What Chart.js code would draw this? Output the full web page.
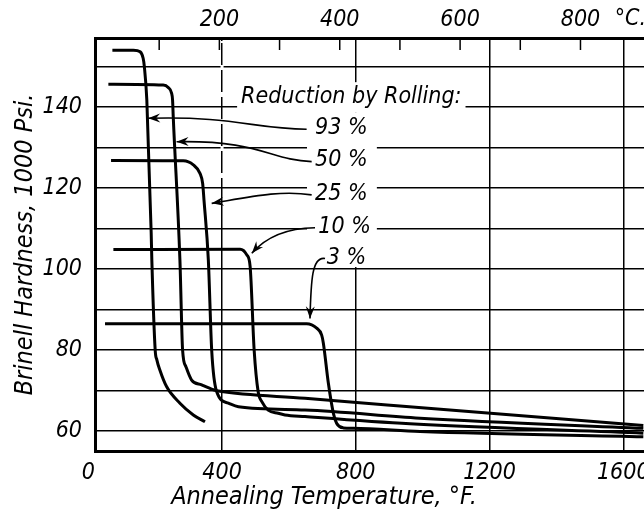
<!DOCTYPE html>
<html>
<head>
<meta charset="utf-8">
<style>
  html, body { margin: 0; padding: 0; background: #fff; }
  #wrap { width: 644px; height: 517px; position: relative; }
</style>
</head>
<body>
<div id="wrap"><canvas id="hardnessChart"></canvas></div>
<script src="https://cdn.jsdelivr.net/npm/chart.js@4.4.1/dist/chart.umd.min.js"></script>
<script>
// Annealing temperature (deg F) against Brinell hardness (1000 psi)
const temp93 = [72, 135, 155, 164, 167.5, 175, 188, 190, 200, 205, 214, 234, 274, 314, 349];
const hard93 = [154, 154, 153.6, 152, 150, 141.7, 109, 102.2, 80, 77.6, 75.1, 71, 66.9, 64, 62.3];

const temp50 = [60, 224, 239, 249, 252, 254, 274, 282, 292, 309, 339, 374, 389, 648, 932, 1660];
const hard50 = [145.6, 145.4, 144.8, 143.4, 141.7, 137.6, 102.2, 80, 75.9, 72.6, 71.4, 70.2, 69.9, 68.1, 66.2, 61.4];

const temp25 = [68, 284, 314, 334, 342, 346, 359, 369, 384, 419, 449, 648, 992, 1660];
const hard25 = [126.8, 126.7, 125.7, 123.6, 121.1, 117, 102.2, 80, 69.7, 66.9, 66, 65.2, 63.2, 60.7];

const temp10 = [75, 454, 474, 484, 496, 508, 519, 538, 568, 588, 648, 962, 1660];
const hard10 = [104.8, 104.9, 103.5, 100.6, 80, 69.7, 67.3, 65.2, 64.4, 64, 63.6, 61.8, 59.5];

const temp3 = [50, 653, 683, 698, 703, 718, 733, 743, 763, 793, 992, 1660];
const hard3 = [86.5, 86.5, 85.4, 83.7, 81.7, 71.8, 64.4, 61.9, 60.8, 60.7, 59.9, 58.6];

const seriesLabels = ['93 %', '50 %', '25 %', '10 %', '3 %'];

// axes
const F_TICKS = [0, 400, 800, 1200, 1600];
const C_LABELS = [200, 400, 600, 800];
const C_MARKS = [100, 200, 300, 400, 500, 600, 700, 800];
const H_TICKS = [60, 70, 80, 90, 100, 110, 120, 130, 140, 150];
const X_MIN = 20, X_MAX = 1662;
const Y_MIN = 55.1, Y_MAX = 157;

const FONT = "'Liberation Sans Narrow', 'DejaVu Sans Condensed', 'DejaVu Sans', sans-serif";
const INK = '#000';

const toC = f => (f - 32) / 1.8;

// legend notes: where the label sits and the leader curve (deg F, hardness)
const noteTitle = { text: 'Reduction by Rolling:', at: [457, 142.4] };
const noteLabelAt = [[678, 134.8], [678, 126.8], [678, 118.4], [688, 110.4], [713, 102.7]];
const noteLeaders = [
    [[653, 134.5], [498, 134.5], [439, 137.8], [179, 137.2]],
    [[668, 126.5], [543, 126.9], [513, 131.8], [264, 131.4]],
    [[668, 118.3], [573, 119.5], [484, 117.8], [369, 116.2]],
    [[678, 110.2], [588, 110.1], [528, 107.6], [489, 103.9]],
    [[708, 102.6], [669, 103.2], [666, 97.3], [663, 87.8]]
];
const noteColumnRight = 863;   // deg F where the blank strip behind the labels ends
const xTitleAt = 705;          // deg F under which the bottom title is centred
const dashedGrid = { at: 400, downTo: 118 };  // the 400 F rule is broken in the upper part

function makeSeries(temps, hards) {
    return temps.map((t, i) => ({ x: t, y: hards[i] }));
}

const plateNotes = {
    id: 'plateNotes',
    beforeDatasetsDraw(chart) {
        // blank out the grid behind the legend lettering
        const { ctx, scales, chartArea } = chart;
        const x = scales.x, y = scales.y;
        ctx.save();
        ctx.font = `italic 23px ${FONT}`;
        const tx = x.getPixelForValue(noteTitle.at[0]);
        const ty = y.getPixelForValue(noteTitle.at[1]);
        const tw = ctx.measureText(noteTitle.text).width;
        ctx.fillStyle = '#fff';
        ctx.fillRect(tx - 4, ty - 15, tw + 8, 30);
        const colLeft = x.getPixelForValue(noteLabelAt[0][0]) - 8;
        const colRight = x.getPixelForValue(noteColumnRight);
        const colBottom = y.getPixelForValue(noteLabelAt[4][1]) + 9;
        ctx.fillRect(colLeft, ty + 15, colRight - colLeft, colBottom - ty - 15);

        // gaps in the 400 F rule
        const gx = x.getPixelForValue(dashedGrid.at);
        ctx.strokeStyle = '#fff';
        ctx.lineWidth = 3;
        ctx.setLineDash([5, 22]);
        ctx.lineDashOffset = -24;
        ctx.beginPath();
        ctx.moveTo(gx, chartArea.top + 3);
        ctx.lineTo(gx, y.getPixelForValue(dashedGrid.downTo));
        ctx.stroke();
        ctx.restore();
    },
    afterDatasetsDraw(chart) {
        const { ctx, scales, chartArea } = chart;
        const x = scales.x, y = scales.y, xc = scales.xc;
        const P = p => [x.getPixelForValue(p[0]), y.getPixelForValue(p[1])];
        ctx.save();
        ctx.strokeStyle = INK;
        ctx.fillStyle = INK;

        // Celsius ticks pointing into the plot
        ctx.lineWidth = 1.5;
        C_MARKS.forEach(c => {
            const px = xc.getPixelForValue(c);
            ctx.beginPath();
            ctx.moveTo(px, chartArea.top);
            ctx.lineTo(px, chartArea.top + 12);
            ctx.stroke();
        });

        ctx.font = `italic 23px ${FONT}`;
        ctx.textBaseline = 'middle';
        ctx.textAlign = 'left';
        const [tx, ty] = P(noteTitle.at);
        ctx.fillText(noteTitle.text, tx, ty);
        seriesLabels.forEach((lab, i) => {
            const [lx, ly] = P(noteLabelAt[i]);
            ctx.fillText(lab, lx, ly);
        });

        // °C. after the top scale
        ctx.fillText('°C.', xc.getPixelForValue(857), chartArea.top - 19);

        // bottom title
        ctx.font = `italic 25px ${FONT}`;
        ctx.textAlign = 'center';
        ctx.fillText('Annealing Temperature, °F.', x.getPixelForValue(xTitleAt), chartArea.bottom + 46);

        // leader curves with arrow heads
        ctx.lineWidth = 1.6;
        noteLeaders.forEach(pts => {
            const [a, b, c, d] = pts.map(P);
            ctx.beginPath();
            ctx.moveTo(a[0], a[1]);
            ctx.bezierCurveTo(b[0], b[1], c[0], c[1], d[0], d[1]);
            ctx.stroke();
            const ang = Math.atan2(d[1] - c[1], d[0] - c[0]);
            ctx.save();
            ctx.translate(d[0], d[1]);
            ctx.rotate(ang);
            ctx.beginPath();
            ctx.moveTo(0, 0);
            ctx.lineTo(-12, -4.5);
            ctx.lineTo(-8, 0);
            ctx.lineTo(-12, 4.5);
            ctx.closePath();
            ctx.fill();
            ctx.restore();
        });
        ctx.restore();
    }
};

const ctx = document.getElementById('hardnessChart').getContext('2d');
const tickFont = { family: FONT, size: 23, style: 'italic' };
const plainLabel = v => String(v);

const chart = new Chart(ctx, {
    type: 'scatter',
    data: {
        datasets: [
            makeSeries(temp93, hard93),
            makeSeries(temp50, hard50),
            makeSeries(temp25, hard25),
            makeSeries(temp10, hard10),
            makeSeries(temp3, hard3)
        ].map((pts, i) => ({
            label: seriesLabels[i],
            data: pts,
            showLine: true,
            borderColor: INK,
            borderWidth: 3,
            pointRadius: 0,
            cubicInterpolationMode: 'monotone',
            fill: false
        }))
    },
    options: {
        responsive: true,
        maintainAspectRatio: false,
        animation: false,
        layout: { padding: 0 },
        plugins: {
            legend: { display: false },
            tooltip: { enabled: false }
        },
        scales: {
            x: {
                type: 'linear',
                position: 'bottom',
                min: X_MIN,
                max: X_MAX,
                afterBuildTicks: s => { s.ticks = F_TICKS.map(v => ({ value: v })); },
                afterFit: s => { s.height = 66; s.paddingLeft = 0; s.paddingRight = 0; },
                ticks: { autoSkip: false, maxRotation: 0, padding: 8, color: INK, font: tickFont, callback: plainLabel },
                grid: {
                    color: c => (c.tick && c.tick.value > X_MIN ? INK : 'rgba(0,0,0,0)'),
                    lineWidth: 1.5,
                    drawTicks: false
                },
                border: { color: INK, width: 3 }
            },
            xc: {
                type: 'linear',
                position: 'top',
                min: toC(X_MIN),
                max: toC(X_MAX),
                afterBuildTicks: s => { s.ticks = C_LABELS.map(v => ({ value: v })); },
                afterFit: s => { s.height = 38; s.paddingLeft = 0; s.paddingRight = 0; },
                ticks: { autoSkip: false, maxRotation: 0, padding: 4, color: INK, font: tickFont, callback: plainLabel },
                grid: { display: false, drawTicks: false },
                border: { color: INK, width: 3 }
            },
            y: {
                type: 'linear',
                min: Y_MIN,
                max: Y_MAX,
                afterBuildTicks: s => { s.ticks = H_TICKS.map(v => ({ value: v })); },
                afterFit: s => { s.width = 95; s.paddingTop = 0; s.paddingBottom = 0; },
                ticks: {
                    autoSkip: false,
                    padding: 13,
                    color: INK,
                    font: tickFont,
                    callback: v => (v % 20 === 0 ? String(v) : '')
                },
                grid: { color: INK, lineWidth: 1.5, drawTicks: false },
                border: { color: INK, width: 3 },
                title: {
                    display: true,
                    text: 'Brinell Hardness, 1000 Psi.',
                    color: INK,
                    font: { family: FONT, size: 25, style: 'italic' },
                    padding: { top: 10, bottom: 0 }
                }
            }
        }
    },
    plugins: [plateNotes]
});
</script>
</body>
</html>
